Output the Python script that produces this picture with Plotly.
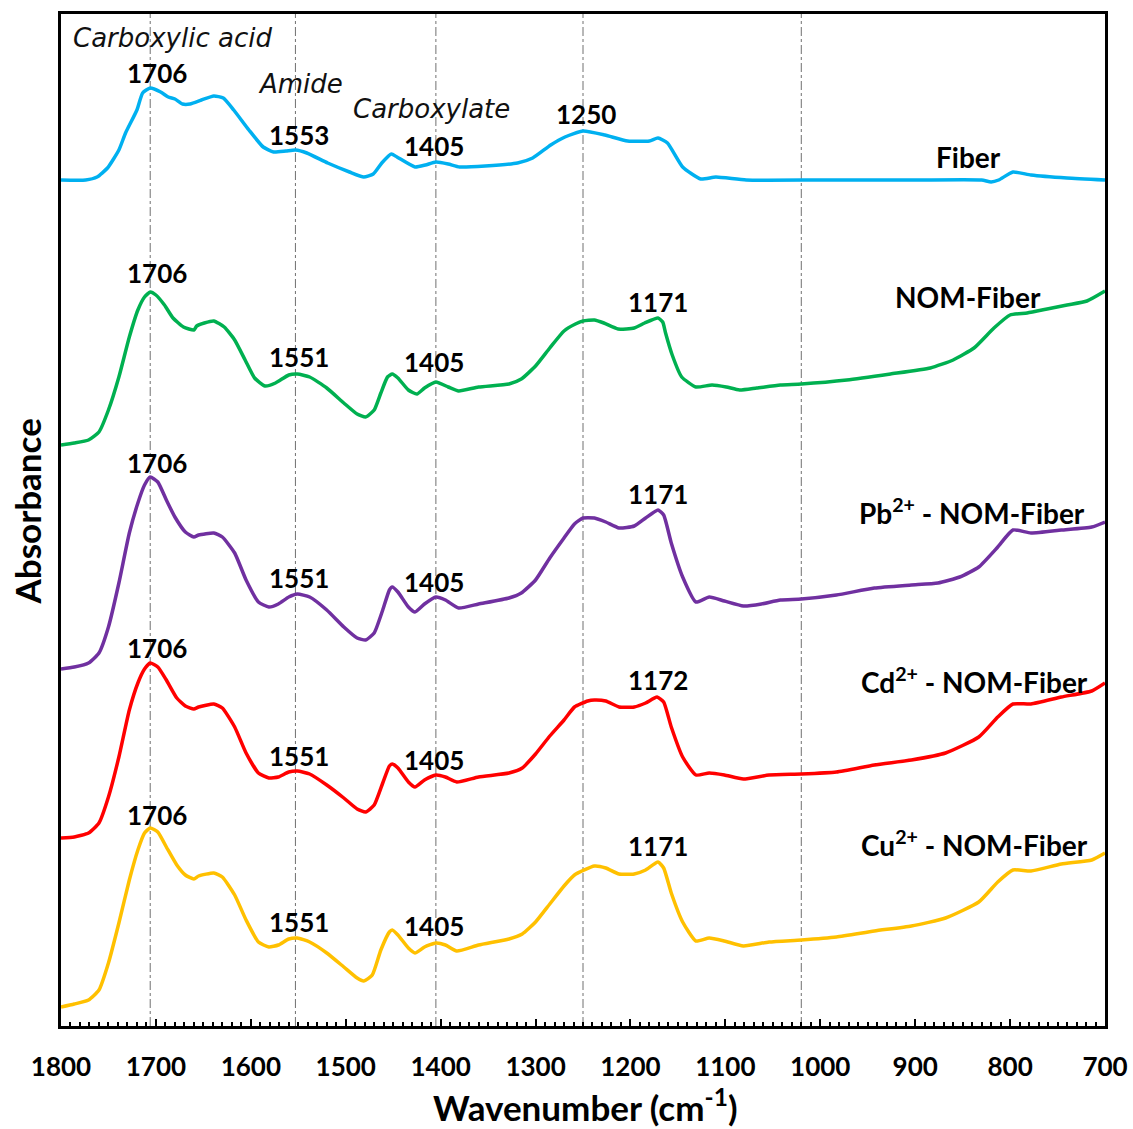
import plotly.graph_objects as go

# FTIR spectra, stacked (absorbance in arbitrary units, offset per sample)
fiber_wn = [1800, 1774, 1762, 1751, 1739, 1732, 1720, 1714, 1706, 1695, 1687, 1680, 1672, 1664, 1652,
            1639, 1629, 1618, 1602, 1587, 1576, 1563, 1553, 1541, 1519, 1496, 1481, 1471, 1462, 1452,
            1446, 1427, 1416, 1405, 1392, 1380, 1353, 1319, 1303, 1284, 1269, 1250, 1227, 1203, 1180,
            1171, 1161, 1145, 1126, 1110, 1078, 1000, 900, 830, 820, 812, 797, 778, 740, 700]
fiber_abs = [846, 846, 849, 858, 876, 893, 916, 933, 938, 934, 929, 927, 922, 922, 926,
             930, 928, 916, 896, 879, 874, 875, 876, 873, 863, 854, 849, 852, 863, 872,
             869, 859, 861, 864, 862, 859, 860, 863, 868, 881, 889, 895, 891, 885, 885,
             888, 883, 859, 847, 849, 846, 846, 846, 846, 844, 846, 854, 851, 848, 846]

nom_wn = [1800, 1786, 1771, 1760, 1750, 1739, 1728, 1719, 1712, 1706, 1700, 1691, 1682, 1671, 1660,
          1657, 1649, 1639, 1628, 1617, 1606, 1596, 1585, 1574, 1560, 1551, 1538, 1520, 1502, 1488,
          1479, 1470, 1463, 1456, 1451, 1445, 1434, 1425, 1417, 1405, 1392, 1381, 1360, 1328, 1315,
          1300, 1285, 1270, 1258, 1250, 1238, 1228, 1213, 1196, 1185, 1171, 1166, 1163, 1156, 1146, 1131,
          1114, 1099, 1085, 1067, 1042, 1020, 972, 926, 884, 860, 838, 817, 800, 782, 761, 740, 719, 700]
nom_abs = [581, 583, 586, 594, 616, 649, 689, 716, 729, 734, 731, 721, 708, 699, 696,
           700, 703, 705, 699, 686, 666, 648, 640, 643, 651, 652, 649, 638, 623, 612,
           609, 616, 633, 649, 652, 648, 636, 632, 638, 644, 639, 635, 639, 642, 647,
           660, 678, 695, 702, 705, 706, 703, 697, 698, 703, 708, 704, 693, 671, 649, 639,
           641, 639, 636, 638, 641, 642, 646, 652, 658, 666, 678, 698, 711, 713, 717, 721, 725, 735]

pb_wn = [1800, 1786, 1771, 1760, 1750, 1739, 1728, 1719, 1712, 1706, 1698, 1689, 1680, 1669, 1660,
         1655, 1639, 1630, 1617, 1605, 1592, 1581, 1571, 1560, 1551, 1538, 1520, 1502, 1488, 1479,
         1470, 1461, 1454, 1451, 1445, 1434, 1427, 1417, 1405, 1395, 1381, 1360, 1328, 1315, 1300,
         1285, 1270, 1259, 1250, 1238, 1226, 1212, 1196, 1184, 1171, 1165, 1157, 1145, 1131, 1117,
         1101, 1081, 1062, 1042, 1020, 983, 943, 904, 876, 853, 833, 813, 797, 778, 746, 714, 700]
pb_abs = [357, 359, 363, 373, 399, 443, 493, 523, 541, 549, 544, 526, 509, 494, 489,
          491, 493, 489, 473, 446, 424, 419, 422, 429, 432, 429, 416, 399, 388, 386,
          393, 416, 436, 439, 434, 419, 414, 422, 429, 426, 418, 422, 428, 433, 446,
          468, 488, 502, 508, 508, 504, 498, 500, 508, 516, 511, 483, 449, 424, 429,
          425, 420, 422, 426, 427, 431, 438, 441, 443, 449, 459, 479, 496, 493, 496, 499, 504]

cd_wn = [1800, 1786, 1771, 1760, 1750, 1739, 1728, 1719, 1712, 1706, 1698, 1689, 1678, 1669, 1660,
         1655, 1639, 1630, 1617, 1605, 1592, 1581, 1571, 1560, 1551, 1538, 1520, 1502, 1488, 1479,
         1470, 1461, 1454, 1451, 1445, 1434, 1427, 1417, 1405, 1395, 1383, 1360, 1328, 1314, 1300,
         1285, 1270, 1259, 1245, 1238, 1226, 1212, 1196, 1184, 1172, 1165, 1157, 1145, 1131, 1117, 1101,
         1081, 1054, 1020, 983, 943, 904, 868, 833, 813, 797, 778, 746, 714, 700]
cd_abs = [188, 189, 193, 203, 229, 269, 316, 343, 357, 363, 359, 346, 328, 320, 317,
          319, 322, 318, 299, 273, 253, 248, 249, 254, 255, 252, 241, 228, 217, 214,
          221, 243, 260, 262, 258, 244, 239, 246, 251, 249, 244, 249, 253, 258, 272,
          290, 306, 319, 325, 326, 325, 319, 319, 323, 329, 324, 299, 269, 251, 253, 251,
          247, 251, 252, 254, 261, 266, 273, 289, 309, 322, 322, 329, 335, 343]

cu_wn = [1800, 1786, 1771, 1760, 1750, 1739, 1728, 1719, 1712, 1706, 1698, 1689, 1678, 1669, 1660,
         1655, 1639, 1630, 1617, 1605, 1592, 1581, 1571, 1560, 1551, 1538, 1520, 1502, 1488, 1481,
         1472, 1463, 1454, 1451, 1445, 1434, 1427, 1417, 1405, 1395, 1383, 1360, 1328, 1314, 1300,
         1285, 1270, 1259, 1238, 1226, 1212, 1196, 1184, 1171, 1165, 1157, 1145, 1131, 1117, 1101, 1081,
         1054, 1020, 983, 943, 904, 868, 833, 813, 797, 778, 746, 714, 700]
cu_abs = [19, 22, 26, 36, 63, 103, 146, 176, 193, 198, 194, 179, 161, 151, 147,
          150, 153, 149, 131, 106, 84, 79, 81, 87, 88, 84, 73, 59, 48, 45,
          51, 76, 94, 96, 91, 78, 73, 79, 83, 81, 75, 81, 87, 92, 104,
          122, 140, 151, 160, 158, 152, 152, 156, 164, 158, 133, 104, 85, 88, 85, 80,
          84, 86, 89, 95, 100, 108, 124, 144, 156, 155, 162, 166, 173]

series_names = ["Fiber", "NOM-Fiber", "Pb<sup>2+</sup> - NOM-Fiber",
                "Cd<sup>2+</sup> - NOM-Fiber", "Cu<sup>2+</sup> - NOM-Fiber"]
series_colors = ["#00B0F0", "#00B050", "#7030A0", "#FF0000", "#FFC000"]
series_wn = [fiber_wn, nom_wn, pb_wn, cd_wn, cu_wn]
series_abs = [fiber_abs, nom_abs, pb_abs, cd_abs, cu_abs]

# reference band positions (cm-1)
band_lines = [1706, 1553, 1405, 1250, 1020]

# band group names: (text, wavenumber, absorbance)
group_labels = [("Carboxylic acid", 1683, 988), ("Amide", 1548, 942), ("Carboxylate", 1410, 917)]

# peak labels per spectrum: (text, wavenumber, absorbance)
peak_labels = [
    ("1706", 1699, 953), ("1553", 1549, 891), ("1405", 1407, 880), ("1250", 1247, 912),
    ("1706", 1699, 753), ("1551", 1549, 669), ("1405", 1407, 664), ("1171", 1171, 724),
    ("1706", 1699, 563), ("1551", 1549, 448), ("1405", 1407, 444), ("1171", 1171, 532),
    ("1706", 1699, 378), ("1551", 1549, 270), ("1405", 1407, 266), ("1172", 1171, 346),
    ("1706", 1699, 211), ("1551", 1549, 104), ("1405", 1407, 100), ("1171", 1171, 180),
]

# sample names: (wavenumber, absorbance, anchor)
name_pos = [(844, 869, "center"), (844, 729, "center"), (719, 515, "right"),
            (716, 346, "right"), (716, 183, "right")]

BOLD = "Lato"

fig = go.Figure()
for name, color, wn, ab in zip(series_names, series_colors, series_wn, series_abs):
    fig.add_trace(go.Scatter(x=wn, y=ab, mode="lines", name=name,
                             line=dict(color=color, width=3.5, shape="spline", smoothing=0.5),
                             showlegend=False, hoverinfo="skip"))

shapes = []
for b in band_lines:
    shapes.append(dict(type="line", xref="x", yref="paper", x0=b, x1=b, y0=0, y1=1,
                       line=dict(color="#707070", width=1, dash="dashdot"), layer="below"))

annotations = []
for text, x, y in group_labels:
    annotations.append(dict(text=text, x=x, y=y, xref="x", yref="y", showarrow=False,
                            xanchor="center", yanchor="middle",
                            font=dict(family="DejaVu Sans", size=26, color="#111111", style="italic",
                                      weight=300)))
for text, x, y in peak_labels:
    annotations.append(dict(text=text, x=x, y=y, xref="x", yref="y", showarrow=False,
                            xanchor="center", yanchor="middle",
                            font=dict(family=BOLD, size=26, color="black", weight="bold")))
for name, (x, y, anc) in zip(series_names, name_pos):
    annotations.append(dict(text=name, x=x, y=y, xref="x", yref="y", showarrow=False,
                            xanchor=anc, yanchor="middle",
                            font=dict(family=BOLD, size=28, color="black", weight="bold")))

# axis titles
annotations.append(dict(text="Wavenumber (cm<sup>-1</sup>)", x=0.502, y=-0.078, xref="paper", yref="paper",
                        showarrow=False, xanchor="center", yanchor="middle",
                        font=dict(family=BOLD, size=35, color="black", weight="bold")))
annotations.append(dict(text="Absorbance", x=-0.033, y=0.508, xref="paper", yref="paper",
                        showarrow=False, xanchor="center", yanchor="middle", textangle=-90,
                        font=dict(family=BOLD, size=35, color="black", weight="bold")))

fig.update_layout(
    width=1133, height=1129,
    margin=dict(l=61, r=28, t=14, b=103),
    paper_bgcolor="white", plot_bgcolor="white",
    shapes=shapes, annotations=annotations,
    xaxis=dict(range=[1800, 700], tickmode="array", tickvals=list(range(1800, 699, -100)),
               ticks="inside", ticklen=7, tickwidth=2, tickcolor="black",
               minor=dict(dtick=10, ticks="inside", ticklen=4, tickwidth=1.5, tickcolor="black"),
               showline=True, linewidth=3, linecolor="black", mirror=True,
               showgrid=False, zeroline=False, ticklabelstandoff=16, automargin=False,
               tickfont=dict(family=BOLD, size=26, color="black", weight="bold")),
    yaxis=dict(range=[0, 1012], showticklabels=False, ticks="", automargin=False,
               showline=True, linewidth=3, linecolor="black", mirror=True,
               showgrid=False, zeroline=False),
)

fig.write_html("out.html")
